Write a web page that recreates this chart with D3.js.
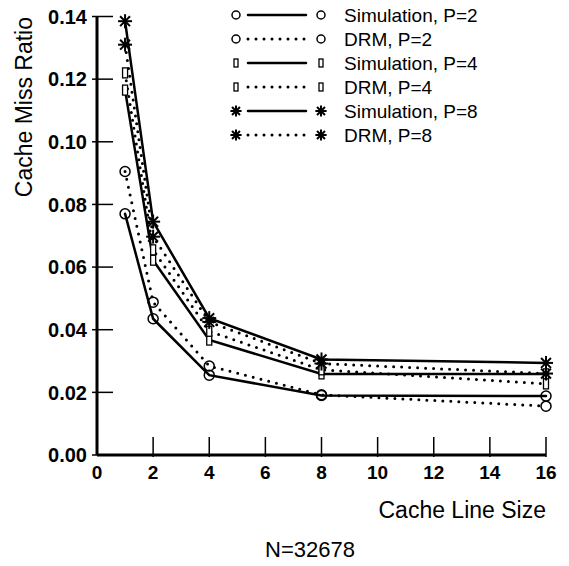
<!DOCTYPE html>
<html>
<head>
<meta charset="utf-8">
<script src="https://cdn.jsdelivr.net/npm/d3@7"></script>
<style>
  body { margin: 0; background: #fff; }
  svg { font-family: "Liberation Sans", Arial, sans-serif; }
</style>
</head>
<body>
<div id="chart"></div>
<script>
// Cache miss ratio vs cache line size
const lineSizes = [1, 2, 4, 8, 16];
const simP2 = [0.077, 0.0435, 0.0255, 0.019, 0.0188];
const drmP2 = [0.0905, 0.0488, 0.0284, 0.0192, 0.0156];
const simP4 = [0.1165, 0.0622, 0.0367, 0.0259, 0.0259];
const drmP4 = [0.122, 0.0655, 0.0395, 0.0272, 0.0227];
const simP8 = [0.1385, 0.0745, 0.0437, 0.0305, 0.0294];
const drmP8 = [0.131, 0.0697, 0.0425, 0.0292, 0.026];
const xTicks = [0, 2, 4, 6, 8, 10, 12, 14, 16];
const yTicks = [0, 0.02, 0.04, 0.06, 0.08, 0.10, 0.12, 0.14];

const series = [
  {name: "Simulation, P=2", values: simP2, marker: "circle", dotted: false},
  {name: "DRM, P=2", values: drmP2, marker: "circle", dotted: true},
  {name: "Simulation, P=4", values: simP4, marker: "rect", dotted: false},
  {name: "DRM, P=4", values: drmP4, marker: "rect", dotted: true},
  {name: "Simulation, P=8", values: simP8, marker: "star", dotted: false},
  {name: "DRM, P=8", values: drmP8, marker: "star", dotted: true}
];

const W = 569, H = 566;
const svg = d3.select("#chart")
    .append("svg")
    .attr("width", W)
    .attr("height", H);

const x = d3.scaleLinear().domain([0, 16]).range([97, 546]);
const y = d3.scaleLinear().domain([0, 0.14]).range([455, 16.5]);

// axes
svg.append("line")
    .attr("x1", x(0)).attr("x2", x(16))
    .attr("y1", y(0)).attr("y2", y(0))
    .attr("stroke", "#000").attr("stroke-width", 3);
svg.append("line")
    .attr("x1", x(0)).attr("x2", x(0))
    .attr("y1", y(0)).attr("y2", y(0.14))
    .attr("stroke", "#000").attr("stroke-width", 3);

// y ticks
svg.selectAll("line.ytick")
  .data(yTicks)
  .enter()
  .append("line")
  .attr("class", "ytick")
  .attr("x1", x(0) - 5)
  .attr("x2", d => d === 0 ? x(0) : x(0) + 16)
  .attr("y1", d => y(d))
  .attr("y2", d => y(d))
  .attr("stroke", "#000")
  .attr("stroke-width", 1.5);

svg.selectAll("text.ylab")
  .data(yTicks)
  .enter()
  .append("text")
  .attr("class", "ylab")
  .attr("x", 87)
  .attr("y", d => y(d))
  .attr("dy", "0.36em")
  .attr("text-anchor", "end")
  .style("font-size", "20px")
  .style("font-weight", "bold")
  .text(d => d.toFixed(2));

// x ticks
svg.selectAll("line.xtick")
  .data(xTicks.filter(d => d > 0))
  .enter()
  .append("line")
  .attr("class", "xtick")
  .attr("x1", d => x(d))
  .attr("x2", d => x(d))
  .attr("y1", y(0) + 2)
  .attr("y2", y(0) - 18)
  .attr("stroke", "#000")
  .attr("stroke-width", 1.5);

svg.selectAll("text.xlab")
  .data(xTicks)
  .enter()
  .append("text")
  .attr("class", "xlab")
  .attr("x", d => x(d))
  .attr("y", 479)
  .attr("text-anchor", "middle")
  .style("font-size", "19px")
  .style("font-weight", "bold")
  .text(d => d);

// axis titles
svg.append("text")
    .attr("x", 546)
    .attr("y", 518)
    .attr("text-anchor", "end")
    .style("font-size", "23px")
    .text("Cache Line Size");

svg.append("text")
    .attr("transform", "rotate(-90)")
    .attr("x", -17)
    .attr("y", 32)
    .attr("text-anchor", "end")
    .style("font-size", "23px")
    .text("Cache Miss Ratio");

svg.append("text")
    .attr("x", 310)
    .attr("y", 557)
    .attr("text-anchor", "middle")
    .style("font-size", "22px")
    .text("N=32678");

// markers
function drawMarker(g, type, cx, cy, small) {
  const k = small ? 0.8 : 1;
  if (type === "circle") {
    g.append("circle").attr("cx", cx).attr("cy", cy).attr("r", 5 * k)
      .attr("fill", "none").attr("stroke", "#000").attr("stroke-width", 1.5);
  } else if (type === "rect") {
    g.append("rect").attr("x", cx - 2.5 * k).attr("y", cy - 5 * k)
      .attr("width", 5 * k).attr("height", 10 * k)
      .attr("fill", "#fff").attr("stroke", "#000").attr("stroke-width", 1.3);
  } else {
    const r = 7 * k;
    [0, 45, 90, 135].forEach(a => {
      const rad = a * Math.PI / 180;
      g.append("line")
        .attr("x1", cx - r * Math.cos(rad)).attr("y1", cy - r * Math.sin(rad))
        .attr("x2", cx + r * Math.cos(rad)).attr("y2", cy + r * Math.sin(rad))
        .attr("stroke", "#000").attr("stroke-width", 2);
    });
  }
}

const line = d3.line()
    .x((d, i) => x(lineSizes[i]))
    .y(d => y(d));

// series lines
series.forEach(s => {
  svg.append("path")
    .datum(s.values)
    .attr("d", line)
    .attr("fill", "none")
    .attr("stroke", "#000")
    .attr("stroke-width", s.dotted ? 3 : 2.5)
    .attr("stroke-linecap", "round")
    .attr("stroke-dasharray", s.dotted ? "0,8" : null);
});
series.forEach(s => {
  const g = svg.append("g");
  s.values.forEach((v, i) => drawMarker(g, s.marker, x(lineSizes[i]), y(v), false));
});

// legend
const rowY = d3.scaleLinear().domain([0, 5]).range([15, 135]);
series.forEach((s, i) => {
  const g = svg.append("g");
  const yy = rowY(i);
  g.append("line")
    .attr("x1", 248).attr("x2", 306)
    .attr("y1", yy).attr("y2", yy)
    .attr("stroke", "#000")
    .attr("stroke-width", s.dotted ? 3 : 2.5)
    .attr("stroke-linecap", "round")
    .attr("stroke-dasharray", s.dotted ? "0,8" : null);
  drawMarker(g, s.marker, 236, yy, true);
  drawMarker(g, s.marker, 321, yy, true);
  g.append("text")
    .attr("x", 344)
    .attr("y", yy)
    .attr("dy", "0.36em")
    .style("font-size", "19px")
    .text(s.name);
});
</script>
</body>
</html>
